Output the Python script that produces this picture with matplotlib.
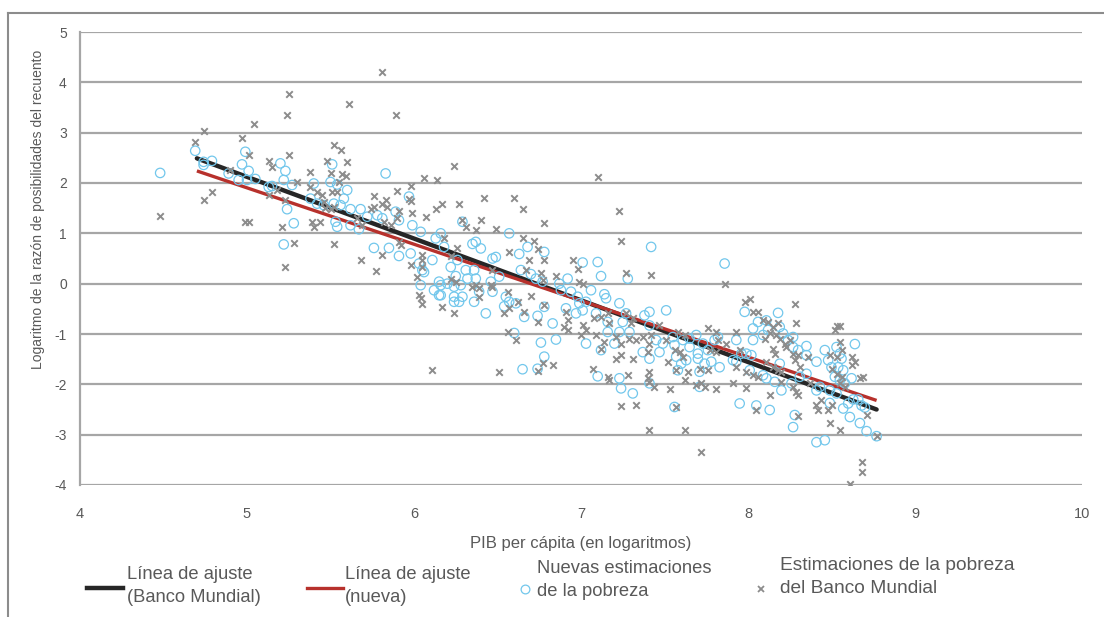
import numpy as np
import matplotlib
matplotlib.use("Agg")
import matplotlib.pyplot as plt
from matplotlib.lines import Line2D

plt.rcParams['font.family'] = ['Liberation Sans', 'DejaVu Sans']
plt.rcParams['axes.unicode_minus'] = False

# fitted lines (log GDP per capita -> log odds of headcount)
fit_x = [4.70, 8.77]
fit_wb = [2.49, -2.50]
fit_new = [2.24, -2.32]

# World Bank poverty estimates (x markers)
wb_points = [
    (4.74, 3.03), (4.69, 2.82), (4.48, 1.35), (4.74, 1.67), (4.79, 1.83), (5.04, 3.17), (4.97, 2.90),
    (5.01, 2.55), (4.90, 2.26), (4.99, 1.23), (5.01, 1.23), (5.13, 2.44), (5.15, 2.32), (5.13, 1.77),
    (5.18, 1.86), (5.23, 1.66), (5.21, 1.13), (5.23, 0.33), (5.25, 3.76), (5.24, 3.35), (5.25, 2.55),
    (5.81, 4.20), (5.61, 3.56), (5.89, 3.36), (5.52, 2.75), (5.56, 2.65), (5.48, 2.44), (5.60, 2.42),
    (5.38, 2.22), (5.50, 2.19), (5.57, 2.17), (5.59, 2.14), (5.30, 2.02), (5.55, 2.02), (5.38, 1.92),
    (5.42, 1.83), (5.45, 1.76), (5.51, 1.83), (5.54, 1.83), (5.39, 1.23), (5.40, 1.13), (5.44, 1.23),
    (5.46, 1.63), (5.47, 1.51), (5.50, 1.48), (5.52, 1.53), (5.28, 0.80), (5.52, 0.79), (5.76, 1.74),
    (5.83, 1.67), (5.81, 1.59), (5.84, 1.53), (5.90, 1.84), (5.98, 1.94), (6.06, 2.10), (6.14, 2.06),
    (5.91, 1.44), (5.90, 1.30), (5.76, 1.53), (5.74, 1.48), (5.97, 1.69), (5.98, 1.65), (5.99, 1.40),
    (6.07, 1.33), (6.13, 1.49), (5.66, 1.30), (5.69, 1.16), (5.82, 1.23), (5.86, 1.16), (5.91, 0.83),
    (5.92, 0.77), (5.68, 0.47), (5.77, 0.25), (5.81, 0.57), (5.98, 0.38), (6.05, 0.57), (6.05, 0.47),
    (6.05, 0.33), (6.02, 0.14), (6.03, -0.23), (6.04, -0.29), (6.05, -0.41), (6.11, -1.72),
    (6.24, 2.34), (6.17, 1.58), (6.27, 1.59), (6.42, 1.71), (6.60, 1.71), (6.65, 1.49), (6.29, 1.26),
    (6.40, 1.26), (6.31, 1.13), (6.37, 1.06), (6.49, 1.08), (6.78, 1.20), (6.18, 0.90), (6.65, 0.90),
    (6.72, 0.85), (6.74, 0.68), (6.57, 0.63), (6.69, 0.48), (6.78, 0.47), (6.26, 0.70), (6.22, 0.55),
    (6.95, 0.47), (6.98, 0.30), (6.67, 0.28), (6.76, 0.21), (6.77, 0.08), (6.47, 0.28), (6.85, 0.15),
    (6.22, 0.10), (6.25, 0.04), (6.35, -0.06), (6.37, -0.03), (6.39, -0.08), (6.46, -0.03), (6.47, -0.06),
    (6.56, -0.16), (6.62, -0.36), (6.70, -0.25), (6.99, 0.04), (7.01, 0.00), (6.17, -0.46), (6.24, -0.58),
    (6.39, -0.26), (6.54, -0.59), (6.57, -0.49), (6.66, -0.56), (6.78, -0.43), (6.74, -0.77), (6.91, -0.56),
    (6.92, -0.73), (6.90, -0.86), (6.92, -0.92), (7.01, -0.83), (7.03, -0.92), (7.00, -1.02), (6.56, -0.96),
    (6.61, -1.11), (6.51, -1.75), (6.74, -1.73), (6.77, -1.57), (6.83, -1.62),
    (7.10, 2.12), (7.23, 1.45), (7.24, 0.85), (7.27, 0.21), (7.42, 0.17), (7.86, -0.01), (7.08, -0.69),
    (7.12, -0.66), (7.16, -0.59), (7.17, -0.79), (7.27, -0.59), (7.30, -0.79), (7.31, -0.69), (7.47, -0.82),
    (7.09, -1.02), (7.14, -1.16), (7.12, -1.29), (7.21, -1.06), (7.24, -1.19), (7.29, -1.09), (7.33, -1.12),
    (7.41, -1.19), (7.42, -1.02), (7.21, -1.49), (7.24, -1.42), (7.31, -1.49), (7.37, -1.06), (7.40, -1.36),
    (7.51, -1.12), (7.56, -1.32), (7.58, -0.96), (7.62, -1.02), (7.59, -1.36), (7.61, -1.46), (7.52, -1.55),
    (7.57, -1.72), (7.07, -1.69), (7.16, -1.85), (7.17, -1.91), (7.28, -1.82), (7.41, -1.75), (7.40, -1.88),
    (7.41, -1.95), (7.44, -2.05), (7.53, -2.10), (7.62, -1.92), (7.64, -1.75), (7.69, -2.02), (7.72, -1.98),
    (7.74, -2.05), (7.71, -1.69), (7.76, -1.72), (7.76, -0.89), (7.81, -0.96), (7.82, -1.12), (7.77, -1.32),
    (7.87, -1.19), (7.81, -1.36), (7.81, -2.10), (7.91, -1.98), (7.93, -0.96), (7.93, -1.66), (7.24, -2.44),
    (7.33, -2.42), (7.57, -2.45), (7.41, -2.91), (7.62, -2.91), (7.72, -3.34),
    (8.28, -0.41), (8.29, -0.78), (7.98, -0.36), (8.01, -0.31), (8.03, -0.56), (8.06, -0.56), (8.09, -0.73),
    (8.12, -0.76), (8.15, -0.86), (8.18, -0.79), (8.10, -1.09), (8.13, -0.99), (8.17, -1.02), (8.19, -1.09),
    (8.22, -1.19), (8.25, -1.12), (8.23, -1.26), (8.27, -1.39), (8.30, -1.42), (8.28, -1.52), (8.15, -1.29),
    (8.16, -1.39), (8.31, -1.66), (8.36, -1.45), (7.95, -1.32), (7.99, -1.75), (8.03, -1.82), (8.06, -1.85),
    (8.11, -1.55), (8.15, -1.66), (8.18, -1.72), (8.20, -1.75), (7.99, -2.08), (8.05, -2.50), (8.13, -2.22),
    (8.20, -1.95), (8.27, -2.05), (8.29, -2.15), (8.30, -2.22), (8.30, -2.63), (8.37, -1.98), (8.41, -2.42),
    (8.44, -2.32), (8.42, -2.51), (8.48, -2.51), (8.50, -2.42), (8.49, -2.77), (8.55, -2.90), (8.53, -0.85),
    (8.55, -0.85), (8.52, -0.92), (8.55, -1.16), (8.49, -1.42), (8.53, -1.45), (8.56, -1.32), (8.62, -1.45),
    (8.64, -1.55), (8.62, -1.62), (8.69, -1.85), (8.67, -1.88), (8.50, -1.69), (8.53, -1.79), (8.56, -1.85),
    (8.55, -1.98), (8.58, -2.05), (8.71, -2.61), (8.68, -3.54), (8.68, -3.74), (8.61, -3.99), (8.77, -3.03),
]

# new poverty estimates (open circles)
new_points = [
    (4.48, 2.20), (4.69, 2.64), (4.74, 2.36), (4.74, 2.42), (4.79, 2.44), (4.89, 2.19), (4.99, 2.62),
    (4.97, 2.37), (5.01, 2.24), (4.95, 2.06), (5.00, 2.06), (5.05, 2.08), (5.13, 1.92), (5.15, 1.94),
    (5.20, 2.39), (5.23, 2.24), (5.22, 2.06), (5.24, 1.48), (5.22, 0.78),
    (5.51, 2.37), (5.83, 2.19), (5.27, 1.96), (5.40, 1.99), (5.50, 2.02), (5.54, 1.97), (5.60, 1.86),
    (5.58, 1.69), (5.38, 1.69), (5.42, 1.59), (5.46, 1.56), (5.52, 1.59), (5.56, 1.56), (5.62, 1.48),
    (5.68, 1.48), (5.53, 1.23), (5.54, 1.13), (5.28, 1.20), (5.62, 1.16), (5.67, 1.08), (5.72, 1.33),
    (5.78, 1.36), (5.81, 1.30), (5.89, 1.43), (5.91, 1.26), (5.97, 1.73), (5.99, 1.16), (6.04, 1.03),
    (5.76, 0.71), (5.85, 0.71), (5.91, 0.55), (5.98, 0.60), (6.03, 0.40), (6.05, 0.27), (6.06, 0.23),
    (6.11, 0.47), (6.13, 0.90), (6.04, -0.03), (6.12, -0.13), (6.15, -0.23), (6.15, 0.04),
    (6.16, 1.00), (6.18, 0.73), (6.29, 1.23), (6.35, 0.79), (6.37, 0.83), (6.40, 0.70), (6.57, 1.00),
    (6.68, 0.73), (6.63, 0.59), (6.78, 0.63), (6.47, 0.50), (6.49, 0.53), (6.51, 0.14), (6.26, 0.47),
    (6.22, 0.33), (6.31, 0.27), (6.36, 0.27), (6.37, 0.10), (6.25, 0.15), (6.32, 0.10), (6.16, -0.03),
    (6.20, 0.00), (6.24, -0.06), (6.28, -0.03), (6.16, -0.23), (6.24, -0.26), (6.29, -0.26), (6.27, -0.36),
    (6.24, -0.36), (6.36, -0.36), (6.46, 0.04), (6.47, -0.16), (6.39, -0.16), (6.43, -0.59), (6.55, -0.26),
    (6.57, -0.36), (6.54, -0.45), (6.61, -0.39), (6.64, 0.27), (6.70, 0.19), (6.73, 0.10), (6.77, 0.04),
    (6.66, -0.66), (6.74, -0.64), (6.78, -0.46), (6.83, -0.79), (6.85, -1.11), (6.76, -1.17), (6.78, -1.45),
    (6.65, -1.70), (6.74, -1.69), (6.60, -0.98), (6.87, 0.00), (6.92, 0.10), (6.88, -0.13), (6.94, -0.16),
    (6.98, -0.26), (6.99, -0.39), (7.03, -0.36), (6.91, -0.49), (6.97, -0.59), (7.01, -0.53), (7.01, 0.42),
    (7.03, -1.19),
    (7.10, 0.43), (7.12, 0.15), (7.42, 0.73), (7.86, 0.40), (7.28, 0.10), (7.06, -0.13), (7.14, -0.21),
    (7.15, -0.29), (7.23, -0.39), (7.09, -0.59), (7.16, -0.76), (7.27, -0.59), (7.25, -0.76), (7.38, -0.63),
    (7.41, -0.56), (7.51, -0.53), (7.16, -0.96), (7.23, -0.96), (7.29, -0.96), (7.41, -0.83), (7.20, -1.19),
    (7.12, -1.32), (7.37, -1.36), (7.41, -1.49), (7.47, -1.36), (7.45, -1.12), (7.49, -1.19), (7.56, -1.22),
    (7.55, -1.06), (7.61, -1.12), (7.65, -1.09), (7.69, -1.02), (7.65, -1.26), (7.70, -1.39), (7.73, -1.19),
    (7.76, -1.32), (7.57, -1.45), (7.60, -1.59), (7.58, -1.72), (7.63, -1.52), (7.70, -1.49), (7.74, -1.59),
    (7.78, -1.55), (7.83, -1.66), (7.71, -1.75), (7.80, -1.12), (7.82, -1.06), (7.93, -1.12), (7.91, -1.52),
    (7.93, -1.55), (7.10, -1.84), (7.23, -1.88), (7.24, -2.08), (7.31, -2.18), (7.41, -1.98), (7.56, -2.45),
    (7.71, -2.05),
    (7.98, -0.56), (8.06, -0.76), (8.03, -0.89), (8.11, -0.73), (8.18, -0.58), (8.19, -0.86), (8.12, -0.92),
    (8.09, -1.02), (8.03, -1.12), (8.21, -0.99), (8.27, -1.06), (8.24, -1.12), (8.27, -1.26), (8.30, -1.32),
    (8.35, -1.24), (8.35, -1.42), (8.41, -1.55), (8.19, -1.59), (7.96, -1.39), (7.99, -1.39), (8.02, -1.42),
    (8.01, -1.72), (8.09, -1.82), (8.11, -1.88), (8.16, -1.95), (8.20, -2.12), (8.26, -1.98), (8.31, -1.85),
    (8.35, -1.79), (7.95, -2.38), (8.05, -2.42), (8.13, -2.51), (8.28, -2.61), (8.27, -2.85), (8.41, -3.15),
    (8.46, -3.11), (8.46, -1.32), (8.48, -1.52), (8.50, -1.66), (8.53, -1.26), (8.55, -1.39), (8.56, -1.49),
    (8.64, -1.20), (8.54, -1.66), (8.57, -1.72), (8.52, -1.85), (8.55, -1.92), (8.58, -1.98), (8.62, -1.88),
    (8.43, -2.05), (8.49, -2.12), (8.53, -2.18), (8.41, -2.12), (8.49, -2.37), (8.57, -2.48), (8.61, -2.65),
    (8.60, -2.38), (8.63, -2.30), (8.66, -2.30), (8.68, -2.42), (8.70, -2.46), (8.67, -2.77), (8.71, -2.93),
    (8.77, -3.03),
]

labels = ['Línea de ajuste\n(Banco Mundial)', 'Línea de ajuste\n(nueva)',
          'Nuevas estimaciones\nde la pobreza', 'Estimaciones de la pobreza\ndel Banco Mundial']

wb = np.array(wb_points)
new = np.array(new_points)

TXT = '#595959'
GRID = '#a6a6a6'
BLACK = '#262626'
RED = '#b7312c'
BLUE = '#72c7ec'
GREY = '#8c8c8c'

fig = plt.figure(figsize=(11.04, 6.17), dpi=100)
ax = fig.add_axes([80 / 1104, 1 - 485 / 617, 1002 / 1104, 453 / 617])

ax.plot(fit_x, fit_wb, color=BLACK, lw=3.2, solid_capstyle='round', zorder=3)
ax.plot(fit_x, fit_new, color=RED, lw=2.4, solid_capstyle='butt', zorder=3)
ax.scatter(new[:, 0], new[:, 1], s=46, facecolors='none', edgecolors=BLUE, linewidths=0.9, zorder=4)
ax.scatter(wb[:, 0], wb[:, 1], s=22, marker='x', color=GREY, linewidths=1.4, zorder=5)

ax.set_xlim(4, 10)
ax.set_ylim(-4, 5)
ax.set_xticks(range(4, 11))
ax.set_yticks(range(-4, 6))
ax.yaxis.grid(True, color=GRID, lw=1.6)
ax.set_axisbelow(True)
for s in ['top', 'right', 'bottom']:
    ax.spines[s].set_visible(False)
ax.spines['left'].set_color(GRID)
ax.spines['left'].set_linewidth(1.6)
ax.tick_params(length=0, labelsize=10, labelcolor=TXT)
ax.tick_params(axis='y', pad=9.5)
ax.tick_params(axis='x', labelsize=10.5, pad=15.5)

ax.set_xlabel('PIB per cápita (en logaritmos)', fontsize=12, color=TXT, labelpad=11)
fig.text(38 / 1104, 1 - 209 / 617, 'Logaritmo de la razón de posibilidades del recuento',
         rotation=90, ha='center', va='center', fontsize=10, color=TXT)

# legend drawn by hand along the bottom
fy = lambda py: 1 - py / 617
fx = lambda px: px / 1104
fig.add_artist(Line2D([fx(87), fx(123)], [fy(588), fy(588)], color=BLACK, lw=3.2))
fig.add_artist(Line2D([fx(307), fx(343)], [fy(588), fy(588)], color=RED, lw=2.4))
fig.add_artist(Line2D([fx(525)], [fy(589)], marker='o', ms=6.3, mfc='none', mec=BLUE, mew=0.9))
fig.add_artist(Line2D([fx(761)], [fy(589)], marker='x', ms=4.3, color=GREY, mew=1.3))
leg_pos = [(127, 586), (345, 586), (537, 580), (780, 577)]
leg_size = [13.2, 13.2, 13.2, 13.8]
for (px, py), lab, fs in zip(leg_pos, labels, leg_size):
    fig.text(fx(px), fy(py), lab, ha='left', va='center', fontsize=fs, color=TXT, linespacing=1.45)

# outer frame
fig.add_artist(Line2D([fx(8), 1], [fy(13), fy(13)], color=GREY, lw=1.5))
fig.add_artist(Line2D([fx(8), fx(8)], [fy(13), 0], color=GREY, lw=1.5))

fig.savefig('out.png', dpi=100)
